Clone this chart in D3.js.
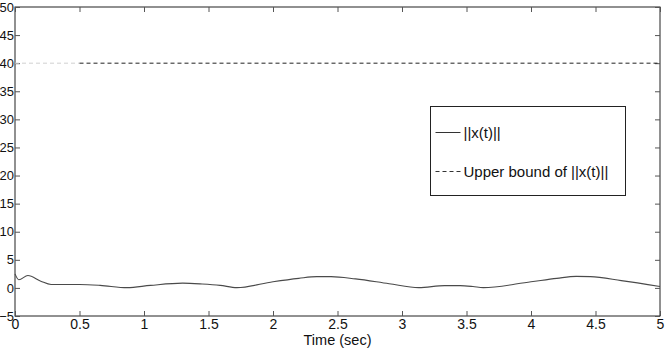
<!DOCTYPE html>
<html>
<head>
<meta charset="utf-8">
<script src="https://cdn.jsdelivr.net/npm/d3@7"></script>
<style>
	body { margin: 0; background: white; }
	svg { display: block; font-family: "Liberation Sans", Arial, sans-serif; }
</style>
</head>
<body>
<div id="chart"></div>
<script>
// ||x(t)||
var timeVals = [0, 0.03, 0.10, 0.20, 0.28, 0.5, 0.66, 0.87, 1.05, 1.30, 1.45, 1.59, 1.72, 2.0, 2.20, 2.34, 2.45, 2.64, 2.9, 3.13, 3.33, 3.45, 3.55, 3.63, 4.0, 4.2, 4.35, 4.46, 4.7, 5.0]
var normVals = [2.5, 1.45, 2.2, 1.2, 0.6, 0.6, 0.45, 0.05, 0.45, 0.85, 0.7, 0.45, 0.05, 1.1, 1.7, 2.0, 2.0, 1.6, 0.75, 0.05, 0.4, 0.4, 0.25, 0.05, 1.1, 1.7, 2.05, 2.0, 1.3, 0.25]
var boundT = [0, 0.5, 5]
var boundVal = 40
var xTicks = [0, 0.5, 1, 1.5, 2, 2.5, 3, 3.5, 4, 4.5, 5]
var yTicks = [-5, 0, 5, 10, 15, 20, 25, 30, 35, 40, 45, 50]
var legendLabels = ["||x(t)||", "Upper bound of ||x(t)||"]

var width = 666
var height = 352
var margin = { left: 15, right: 6, top: 7, bottom: 36 }
var w = width - margin.left - margin.right
var h = height - margin.top - margin.bottom
var fs = "14px"

var svg = d3.select("#chart").append("svg")
	.attr("width", width)
	.attr("height", height)

var x = d3.scaleLinear().domain([0, 5]).range([0, w])
var y = d3.scaleLinear().domain([-5, 50]).range([h, 0])

var g = svg.append("g")
	.attr("transform", "translate(" + margin.left + "," + margin.top + ")")

// frame
g.append("rect")
	.attr("x", 0).attr("y", 0)
	.attr("width", w).attr("height", h)
	.style("fill", "none")
	.style("stroke", "#222")
	.style("stroke-width", 1)

// inward ticks on all four sides
var tk = 5
var xAx = g.append("g").attr("transform", "translate(0," + h + ")")
	.call(d3.axisBottom(x).tickValues(xTicks).tickSizeInner(-tk).tickSizeOuter(0).tickPadding(3).tickFormat(d3.format("")))
g.append("g")
	.call(d3.axisTop(x).tickValues(xTicks).tickSizeInner(-tk).tickSizeOuter(0).tickFormat(""))
var yAx = g.append("g")
	.call(d3.axisLeft(y).tickValues(yTicks).tickSizeInner(-tk).tickSizeOuter(0).tickPadding(1).tickFormat(d3.format("")))
g.append("g").attr("transform", "translate(" + w + ",0)")
	.call(d3.axisRight(y).tickValues(yTicks).tickSizeInner(-tk).tickSizeOuter(0).tickFormat(""))

g.selectAll(".domain").remove()
g.selectAll(".tick line").style("stroke", "#555")
g.selectAll(".tick text").style("fill", "#111")
	.style("font-family", "'Liberation Sans', Arial, sans-serif")
xAx.selectAll(".tick text").style("font-size", fs)
yAx.selectAll(".tick text").style("font-size", "13px")

// x label
g.append("text")
	.attr("x", w / 2)
	.attr("y", h + 29)
	.attr("text-anchor", "middle")
	.style("font-size", "14.5px")
	.style("fill", "#111")
	.text("Time (sec)")

var line = d3.line()
	.x(function (d) { return x(d[0]) })
	.y(function (d) { return y(d[1]) })
	.curve(d3.curveMonotoneX)

var normData = timeVals.map(function (t, i) { return [t, normVals[i]] })

// upper bound (dashed); first piece renders faint in the original
g.append("path")
	.datum([[boundT[0], boundVal], [boundT[1], boundVal]])
	.attr("d", d3.line().x(function (d) { return x(d[0]) }).y(function (d) { return y(d[1]) }))
	.style("fill", "none")
	.style("stroke", "#d0d0d0")
	.style("stroke-dasharray", "4,3")
g.append("path")
	.datum([[boundT[1], boundVal], [boundT[2], boundVal]])
	.attr("d", d3.line().x(function (d) { return x(d[0]) }).y(function (d) { return y(d[1]) }))
	.style("fill", "none")
	.style("stroke", "#222")
	.style("stroke-dasharray", "4,3")

g.append("path")
	.datum(normData)
	.attr("d", line)
	.style("fill", "none")
	.style("stroke", "#4a4a4a")
	.style("stroke-width", 1.1)

// legend
var lg = svg.append("g").attr("transform", "translate(430.5,106.5)")
lg.append("rect")
	.attr("width", 195).attr("height", 89)
	.style("fill", "white")
	.style("stroke", "#222")
legendLabels.forEach(function (lab, i) {
	var ly = i == 0 ? 26 : 65
	lg.append("line")
		.attr("x1", 5).attr("x2", 30)
		.attr("y1", ly).attr("y2", ly)
		.style("stroke", "#333")
		.style("stroke-dasharray", i == 0 ? null : "4,3")
	lg.append("text")
		.attr("x", 33).attr("y", ly + 5)
		.style("font-size", "15px")
		.style("fill", "#111")
		.text(lab)
})
</script>
</body>
</html>
